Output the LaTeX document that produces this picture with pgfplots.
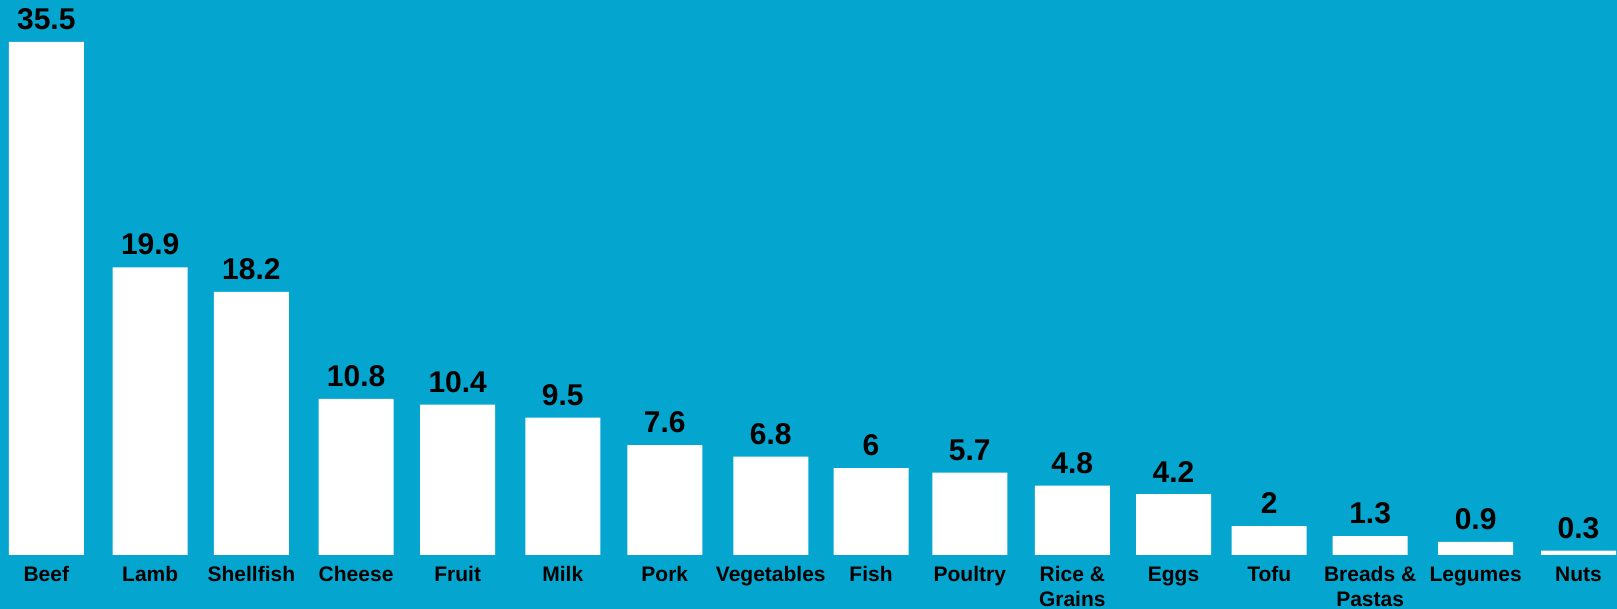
\documentclass[border=0pt]{standalone}
\usepackage{pgfplots}
\pgfplotsset{compat=1.18}
\usepackage{fontspec}
\setmainfont{Liberation Sans}
\definecolor{bg}{RGB}{4,166,208}
\begin{document}
\begin{tikzpicture}
\begin{axis}[
  width=808.5pt, height=304.5pt, scale only axis,
  xmin=0, xmax=1617,
  ymin=-3.74, ymax=38.4,
  axis background/.style={fill=bg},
  axis line style={draw=none},
  major tick length=0pt,
  ytick=\empty,
  xtick={46.3,150.2,251.4,356.1,457.7,562.8,664.8,770.8,871,969.8,1072.3,1173.5,1269.2,1370.1,1475.6,1578.5},
  xticklabels={Beef,Lamb,Shellfish,Cheese,Fruit,Milk,Pork,Vegetables,Fish,Poultry,{Rice \&\\Grains},Eggs,Tofu,{Breads \&\\Pastas},Legumes,Nuts},
  xticklabel style={anchor=north, yshift=24.7pt, align=center, font=\fontsize{10.5}{12.3}\selectfont\bfseries, text=black},
  ybar, bar width=37.5pt,
  /pgf/number format/assume math mode=true,
  nodes near coords,
  nodes near coords style={anchor=south, yshift=2.5pt, font=\fontsize{15}{17}\selectfont\bfseries, text=black},
  clip=false,
]
\addplot[fill=white, draw=none] coordinates {
(46.3,35.5) (150.2,19.9) (251.4,18.2) (356.1,10.8) (457.7,10.4) (562.8,9.5) (664.8,7.6) (770.8,6.8)
(871,6) (969.8,5.7) (1072.3,4.8) (1173.5,4.2) (1269.2,2) (1370.1,1.3) (1475.6,0.9) (1578.5,0.3)
};
\end{axis}
\pgfresetboundingbox
\useasboundingbox (current axis.south west) rectangle (current axis.north east);
\end{tikzpicture}
\end{document}
